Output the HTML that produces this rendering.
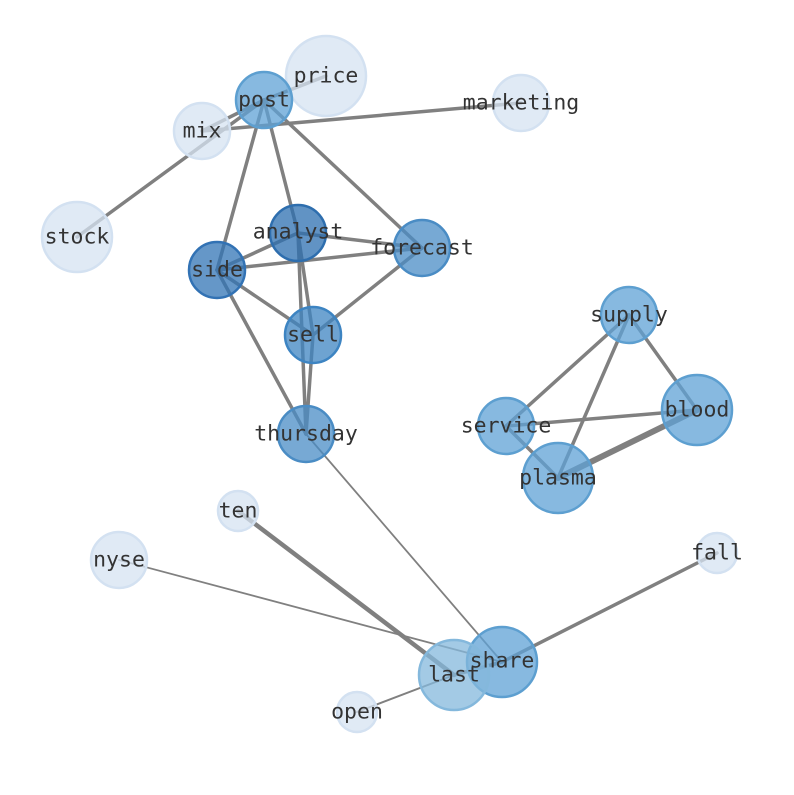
<!DOCTYPE html>
<html><head><style>body{margin:0;background:#fff}svg text{font-family:"DejaVu Sans Mono","Liberation Mono",monospace;font-size:21.5px;fill:#333;text-anchor:middle;dominant-baseline:central}</style></head><body>
<svg width="794" height="790" xmlns="http://www.w3.org/2000/svg">
<g stroke="#808080" stroke-width="3.5" stroke-linecap="round">
<line x1="264" y1="100" x2="326" y2="76"/>
<line x1="264" y1="100" x2="202" y2="131"/>
<line x1="202" y1="131" x2="521" y2="103"/>
<line x1="264" y1="100" x2="77" y2="237"/>
<line x1="264" y1="100" x2="217" y2="270"/>
<line x1="264" y1="100" x2="298" y2="233"/>
<line x1="264" y1="100" x2="422" y2="248"/>
<line x1="298" y1="233" x2="422" y2="248"/>
<line x1="298" y1="233" x2="217" y2="270"/>
<line x1="298" y1="233" x2="306" y2="434"/>
<line x1="298" y1="233" x2="313" y2="335"/>
<line x1="217" y1="270" x2="422" y2="248"/>
<line x1="217" y1="270" x2="313" y2="335"/>
<line x1="217" y1="270" x2="306" y2="434"/>
<line x1="313" y1="335" x2="422" y2="248"/>
<line x1="313" y1="335" x2="306" y2="434"/>
<line x1="629" y1="315" x2="506" y2="426"/>
<line x1="629" y1="315" x2="558" y2="478"/>
<line x1="629" y1="315" x2="697" y2="410"/>
<line x1="506" y1="426" x2="697" y2="410"/>
<line x1="506" y1="426" x2="558" y2="478"/>
<line x1="558" y1="478" x2="697" y2="410" stroke-width="6"/>
<line x1="238" y1="511" x2="454" y2="675" stroke-width="4.5"/>
<line x1="502" y1="662" x2="717" y2="553"/>
<line x1="502" y1="662" x2="454" y2="675"/>
<line x1="119" y1="560" x2="502" y2="662" stroke-width="1.8"/>
<line x1="306" y1="434" x2="502" y2="662" stroke-width="1.8"/>
<line x1="357" y1="712" x2="454" y2="675" stroke-width="2"/>
</g>
<g stroke-width="2.5" fill-opacity="0.75">
<circle cx="326" cy="76" r="40" fill="#d6e3f2" stroke="#d3e1f1"/>
<circle cx="264" cy="100" r="28" fill="#5fa2d5" stroke="#5d9fd0"/>
<circle cx="202" cy="131" r="28" fill="#d6e3f2" stroke="#d3e1f1"/>
<circle cx="521" cy="103" r="28" fill="#d6e3f2" stroke="#d3e1f1"/>
<circle cx="77" cy="237" r="35" fill="#d6e3f2" stroke="#d3e1f1"/>
<circle cx="298" cy="233" r="28" fill="#2c6fb0" stroke="#2e6eae"/>
<circle cx="422" cy="248" r="28" fill="#4a8cc6" stroke="#4a8cc4"/>
<circle cx="217" cy="270" r="28" fill="#3274b6" stroke="#3272b4"/>
<circle cx="313" cy="335" r="28" fill="#3d84c2" stroke="#3d84c2"/>
<circle cx="306" cy="434" r="28" fill="#4a8cc6" stroke="#4a8cc4"/>
<circle cx="629" cy="315" r="28" fill="#5fa2d5" stroke="#5d9fd0"/>
<circle cx="697" cy="410" r="35" fill="#5fa2d5" stroke="#5d9fd0"/>
<circle cx="506" cy="426" r="28" fill="#5fa2d5" stroke="#5d9fd0"/>
<circle cx="558" cy="478" r="35" fill="#5fa2d5" stroke="#5d9fd0"/>
<circle cx="238" cy="511" r="20" fill="#d6e3f2" stroke="#d3e1f1"/>
<circle cx="119" cy="560" r="28" fill="#d6e3f2" stroke="#d3e1f1"/>
<circle cx="717" cy="553" r="20" fill="#d6e3f2" stroke="#d3e1f1"/>
<circle cx="502" cy="662" r="35" fill="#5fa2d5" stroke="#5d9fd0"/>
<circle cx="454" cy="675" r="35" fill="#84b8dc" stroke="#84b8dc"/>
<circle cx="357" cy="712" r="20" fill="#d6e3f2" stroke="#d3e1f1"/>
</g>
<text x="326" y="76">price</text>
<text x="264" y="100">post</text>
<text x="202" y="131">mix</text>
<text x="521" y="103">marketing</text>
<text x="77" y="237">stock</text>
<text x="298" y="232">analyst</text>
<text x="422" y="248">forecast</text>
<text x="217" y="270">side</text>
<text x="313" y="335">sell</text>
<text x="306" y="434">thursday</text>
<text x="629" y="315">supply</text>
<text x="697" y="410">blood</text>
<text x="506" y="426">service</text>
<text x="558" y="478">plasma</text>
<text x="238" y="511">ten</text>
<text x="119" y="560">nyse</text>
<text x="717" y="553">fall</text>
<text x="502" y="661">share</text>
<text x="454" y="675">last</text>
<text x="357" y="712">open</text>
</svg>
</body></html>
